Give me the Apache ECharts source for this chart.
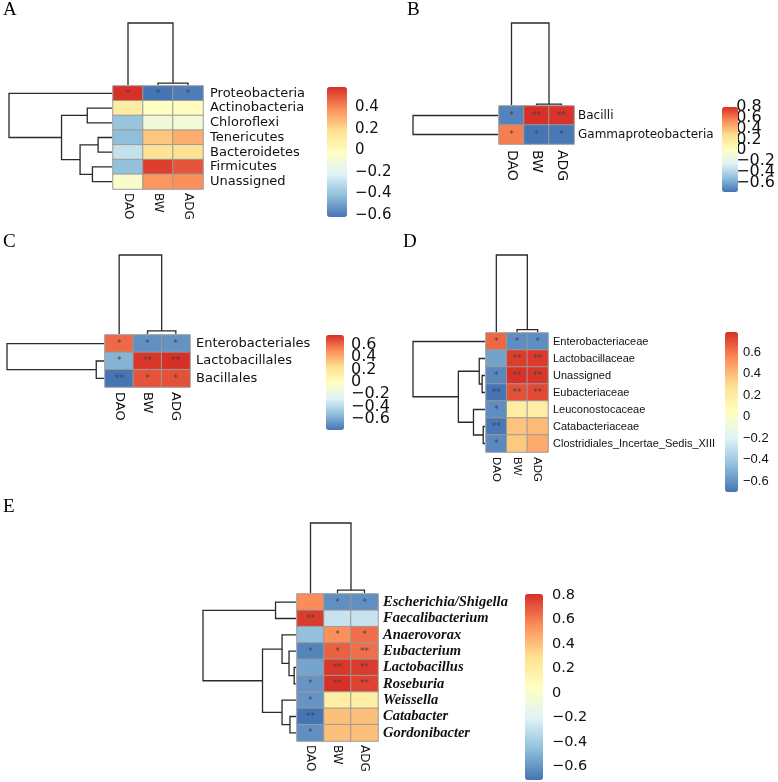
<!DOCTYPE html>
<html><head><meta charset="utf-8">
<script src="https://cdn.jsdelivr.net/npm/echarts@6/dist/echarts.min.js"></script>
<style>html,body{margin:0;padding:0;background:#fff}#c{width:778px;height:782px}</style>
</head><body><div id="c"></div>
<script>
// ---------------- DATA ----------------
const cols = ['DAO', 'BW', 'ADG'];

const rowsA = ['Proteobacteria','Actinobacteria','Chloroflexi','Tenericutes','Bacteroidetes','Firmicutes','Unassigned'];
const valsA = [[0.59,-0.62,-0.60],[0.11,-0.02,-0.01],[-0.40,-0.11,-0.10],[-0.42,0.25,0.31],[-0.29,0.17,0.18],[-0.41,0.56,0.51],[-0.06,0.37,0.38]];
const sigA  = [['*','*','*'],['','',''],['','',''],['','',''],['','',''],['','',''],['','','']];
const rowTreeA = [[-4,-5,0.135],[-6,-7,0.19],[-2,-3,0.24],[1,2,0.31],[3,4,0.49],[-1,5,1.0]];
const colTreeA = [[-2,-3,0.03],[-1,1,1.0]];
const rangeA = [-0.62, 0.59];
const ticksA = [-0.6,-0.4,-0.2,0,0.2,0.4];

const rowsB = ['Bacilli','Gammaproteobacteria'];
const valsB = [[-0.72,0.80,0.79],[0.58,-0.77,-0.76]];
const sigB  = [['*','**','**'],['*','*','*']];
const rowTreeB = [[-1,-2,1.0]];
const colTreeB = [[-2,-3,0.01],[-1,1,1.0]];
const rangeB = [-0.77, 0.80];
const ticksB = [-0.6,-0.4,-0.2,0,0.2,0.4,0.6,0.8];

const rowsC = ['Enterobacteriales','Lactobacillales','Bacillales'];
const valsC = [[0.60,-0.69,-0.68],[-0.56,0.74,0.76],[-0.78,0.66,0.67]];
const sigC  = [['*','*','*'],['*','**','**'],['**','*','*']];
const rowTreeC = [[-2,-3,0.08],[-1,1,1.0]];
const colTreeC = [[-2,-3,0.04],[-1,1,1.0]];
const rangeC = [-0.78, 0.76];
const ticksC = [-0.6,-0.4,-0.2,0,0.2,0.4,0.6];

const rowsD = ['Enterobacteriaceae','Lactobacillaceae','Unassigned','Eubacteriaceae','Leuconostocaceae','Catabacteriaceae','Clostridiales_Incertae_Sedis_XIII'];
const valsD = [[0.64,-0.62,-0.62],[-0.55,0.75,0.76],[-0.64,0.78,0.77],[-0.70,0.70,0.72],[-0.62,0.19,0.18],[-0.69,0.38,0.40],[-0.63,0.36,0.45]];
const sigD  = [['*','*','*'],['','**','**'],['*','**','**'],['**','**','**'],['*','',''],['**','',''],['*','','']];
const rowTreeD = [[-3,-4,0.04],[-6,-7,0.025],[-2,1,0.08],[-5,2,0.16],[3,4,0.37],[-1,5,1.0]];
const colTreeD = [[-2,-3,0.03],[-1,1,1.0]];
const rangeD = [-0.70, 0.786];
const ticksD = [-0.6,-0.4,-0.2,0,0.2,0.4,0.6];

const rowsE = ['Escherichia/Shigella','Faecalibacterium','Anaerovorax','Eubacterium','Lactobacillus','Roseburia','Weissella','Catabacter','Gordonibacter'];
const valsE = [[0.56,-0.62,-0.62],[0.78,-0.28,-0.28],[-0.45,0.55,0.64],[-0.66,0.68,0.64],[-0.55,0.79,0.78],[-0.60,0.81,0.76],[-0.60,0.19,0.19],[-0.71,0.40,0.40],[-0.62,0.40,0.40]];
const sigE  = [['','*','*'],['**','',''],['','*','*'],['*','*','**'],['','**','**'],['*','**','**'],['*','',''],['**','',''],['*','','']];
const rowTreeE = [[-5,-6,0.02],[-8,-9,0.065],[-4,1,0.075],[-3,3,0.15],[-7,2,0.15],[-1,-2,0.22],[4,5,0.36],[6,7,1.0]];
const colTreeE = [[-2,-3,0.04],[-1,1,1.0]];
const rangeE = [-0.71, 0.81];
const ticksE = [-0.6,-0.4,-0.2,0,0.2,0.4,0.6,0.8];

// ---------------- STYLE / LAYOUT ----------------
const palette = ['#4575B4','#91BFDB','#E0F3F8','#FFFFBF','#FEE090','#FC8D59','#D73027'];
const lineColor = '#2a2a2a';

const panels = [
 {letter:'A', rows:rowsA, vals:valsA, sig:sigA, rowTree:rowTreeA, colTree:colTreeA, range:rangeA, ticks:ticksA,
  L:{lx:3, ly:1, hx:113, hy:86, hw:90, hh:103, rootX:9, rootY:23, cbx:327, cby:87, cbw:20, cbh:130},
  rowF:{family:'DejaVu Sans', size:13, margin:7}, colF:{family:'DejaVu Sans', size:12, margin:4},
  cbF:{family:'DejaVu Sans', size:15, margin:8}},
 {letter:'B', rows:rowsB, vals:valsB, sig:sigB, rowTree:rowTreeB, colTree:colTreeB, range:rangeB, ticks:ticksB,
  L:{lx:407, ly:1, hx:499, hy:106, hw:75, hh:38, rootX:413, rootY:23, cbx:722, cby:107, cbw:16, cbh:85},
  rowF:{family:'DejaVu Sans', size:12, margin:4}, colF:{family:'DejaVu Sans', size:14, margin:6},
  cbF:{family:'DejaVu Sans', size:16, margin:2}},
 {letter:'C', rows:rowsC, vals:valsC, sig:sigC, rowTree:rowTreeC, colTree:colTreeC, range:rangeC, ticks:ticksC,
  L:{lx:3, ly:233, hx:105, hy:335, hw:85, hh:52, rootX:7, rootY:255, cbx:326, cby:335, cbw:18, cbh:95},
  rowF:{family:'DejaVu Sans', size:13, margin:6}, colF:{family:'DejaVu Sans', size:13, margin:5},
  cbF:{family:'DejaVu Sans', size:16, margin:7}},
 {letter:'D', rows:rowsD, vals:valsD, sig:sigD, rowTree:rowTreeD, colTree:colTreeD, range:rangeD, ticks:ticksD,
  L:{lx:403, ly:233, hx:486, hy:333, hw:62, hh:119, rootX:413, rootY:255, cbx:725, cby:332, cbw:13, cbh:160},
  rowF:{family:'Liberation Sans', size:11, margin:5}, colF:{family:'Liberation Sans', size:11.5, margin:5},
  cbF:{family:'Liberation Sans', size:13, margin:5}},
 {letter:'E', rows:rowsE, vals:valsE, sig:sigE, rowTree:rowTreeE, colTree:colTreeE, range:rangeE, ticks:ticksE,
  L:{lx:3, ly:498, hx:297, hy:594, hw:81, hh:147, rootX:203, rootY:523, cbx:525, cby:594, cbw:18, cbh:186},
  rowF:{family:'Liberation Serif', size:14.5, margin:5, italic:true, bold:true}, colF:{family:'DejaVu Sans', size:12, margin:4},
  cbF:{family:'DejaVu Sans', size:14.5, margin:9}}
];

// ---------------- HELPERS ----------------
function treeSegments(merges){
  const pos = [], hts = [], out = [];
  merges.forEach(m => {
    const get = k => k < 0 ? [(-k) - 1, 0] : [pos[k-1], hts[k-1]];
    const a = get(m[0]), b = get(m[1]);
    out.push([m[2], a[0], b[0], a[1], b[1]]);
    pos.push((a[0] + b[0]) / 2); hts.push(m[2]);
  });
  return out;
}
function rowRender(params, api){
  const h = api.value(0), p1 = api.value(1), p2 = api.value(2), h1 = api.value(3), h2 = api.value(4);
  return {type:'polyline', shape:{points:[api.coord([h1,p1]), api.coord([h,p1]), api.coord([h,p2]), api.coord([h2,p2])]},
          style:{stroke:lineColor, lineWidth:1.3, fill:null}};
}
function colRender(params, api){
  const h = api.value(0), p1 = api.value(1), p2 = api.value(2), h1 = api.value(3), h2 = api.value(4);
  return {type:'polyline', shape:{points:[api.coord([p1,h1]), api.coord([p1,h]), api.coord([p2,h]), api.coord([p2,h2])]},
          style:{stroke:lineColor, lineWidth:1.3, fill:null}};
}
function fmtTick(v){
  const r = Math.round(v * 10) / 10;
  if (Math.abs(r) < 1e-9) return '0';
  return (r < 0 ? '\u2212' : '') + Math.abs(r).toFixed(1);
}

// ---------------- BUILD OPTION ----------------
const grid = [], xAxis = [], yAxis = [], series = [], visualMap = [], title = [];

panels.forEach((p, i) => {
  const L = p.L;
  const n = p.rows.length;
  title.push({text:p.letter, left:L.lx, top:L.ly, padding:0,
    textStyle:{fontFamily:'Liberation Serif', fontSize:19, fontWeight:'normal', color:'#000'}});

  // heatmap grid
  const gH = grid.length, xH = xAxis.length, yH = yAxis.length;
  grid.push({left:L.hx, top:L.hy, width:L.hw, height:L.hh});
  xAxis.push({type:'category', gridIndex:gH, data:cols, position:'bottom',
    axisLine:{show:false}, axisTick:{show:false}, splitArea:{show:false},
    axisLabel:{interval:0, hideOverlap:false, rotate:-90, margin:p.colF.margin, fontFamily:p.colF.family, fontSize:p.colF.size, color:'#111'}});
  yAxis.push({type:'category', gridIndex:gH, data:p.rows, inverse:true, position:'right',
    axisLine:{show:false}, axisTick:{show:false},
    axisLabel:{interval:0, hideOverlap:false, margin:p.rowF.margin, fontFamily:p.rowF.family, fontSize:p.rowF.size, color:'#111',
      fontStyle:p.rowF.italic ? 'italic' : 'normal', fontWeight:p.rowF.bold ? 'bold' : 'normal'}});
  const data = [];
  p.vals.forEach((row, r) => row.forEach((v, c) => data.push([c, r, v])));
  const heatIdx = series.length;
  series.push({type:'heatmap', xAxisIndex:xH, yAxisIndex:yH, data:data,
    itemStyle:{borderColor:'#9a9a9a', borderWidth:1},
    label:{show:true, color:'#444', fontSize:9, fontFamily:'DejaVu Sans',
      formatter: prm => p.sig[prm.data[1]][prm.data[0]]},
    emphasis:{disabled:true}});

  // row dendrogram grid
  const gR = grid.length, xR = xAxis.length, yR = yAxis.length;
  grid.push({left:L.rootX, top:L.hy, width:L.hx - 1 - L.rootX, height:L.hh});
  xAxis.push({type:'value', gridIndex:gR, min:0, max:1, inverse:true, show:false});
  yAxis.push({type:'value', gridIndex:gR, min:-0.5, max:n - 0.5, inverse:true, show:false});
  series.push({type:'custom', coordinateSystem:'cartesian2d', xAxisIndex:xR, yAxisIndex:yR,
    data:treeSegments(p.rowTree), renderItem:rowRender, silent:true});

  // column dendrogram grid
  const gC = grid.length, xC = xAxis.length, yC = yAxis.length;
  grid.push({left:L.hx, top:L.rootY, width:L.hw, height:L.hy - 1 - L.rootY});
  xAxis.push({type:'value', gridIndex:gC, min:-0.5, max:cols.length - 0.5, show:false});
  yAxis.push({type:'value', gridIndex:gC, min:0, max:1, show:false});
  series.push({type:'custom', coordinateSystem:'cartesian2d', xAxisIndex:xC, yAxisIndex:yC,
    data:treeSegments(p.colTree), renderItem:colRender, silent:true});

  // colour bar + its tick labels (split into two axes so crowded labels are all kept)
  visualMap.push({type:'continuous', seriesIndex:heatIdx, dimension:2, min:p.range[0], max:p.range[1],
    calculable:false, orient:'vertical', left:L.cbx, top:L.cby, itemWidth:L.cbw, itemHeight:L.cbh,
    padding:0, inRange:{color:palette}, hoverLink:false});
  const gB = grid.length;
  grid.push({left:L.cbx, top:L.cby, width:L.cbw, height:L.cbh});
  xAxis.push({type:'value', gridIndex:gB, show:false, min:0, max:1});
  [0, 1].forEach(k => {
    yAxis.push({type:'value', gridIndex:gB, min:p.range[0], max:p.range[1], position:'right', offset:0,
      axisLine:{show:false}, axisTick:{show:false}, splitLine:{show:false},
      axisLabel:{customValues:p.ticks.filter((t, j) => j % 2 === k), formatter:fmtTick, margin:p.cbF.margin,
        hideOverlap:false, fontFamily:p.cbF.family, fontSize:p.cbF.size, color:'#111',
        showMinLabel:true, showMaxLabel:true}});
  });
});

const chart = echarts.init(document.getElementById('c'), null, {renderer:'canvas'});
chart.setOption({animation:false, backgroundColor:'#fff', title, grid, xAxis, yAxis, series, visualMap});
</script></body></html>
